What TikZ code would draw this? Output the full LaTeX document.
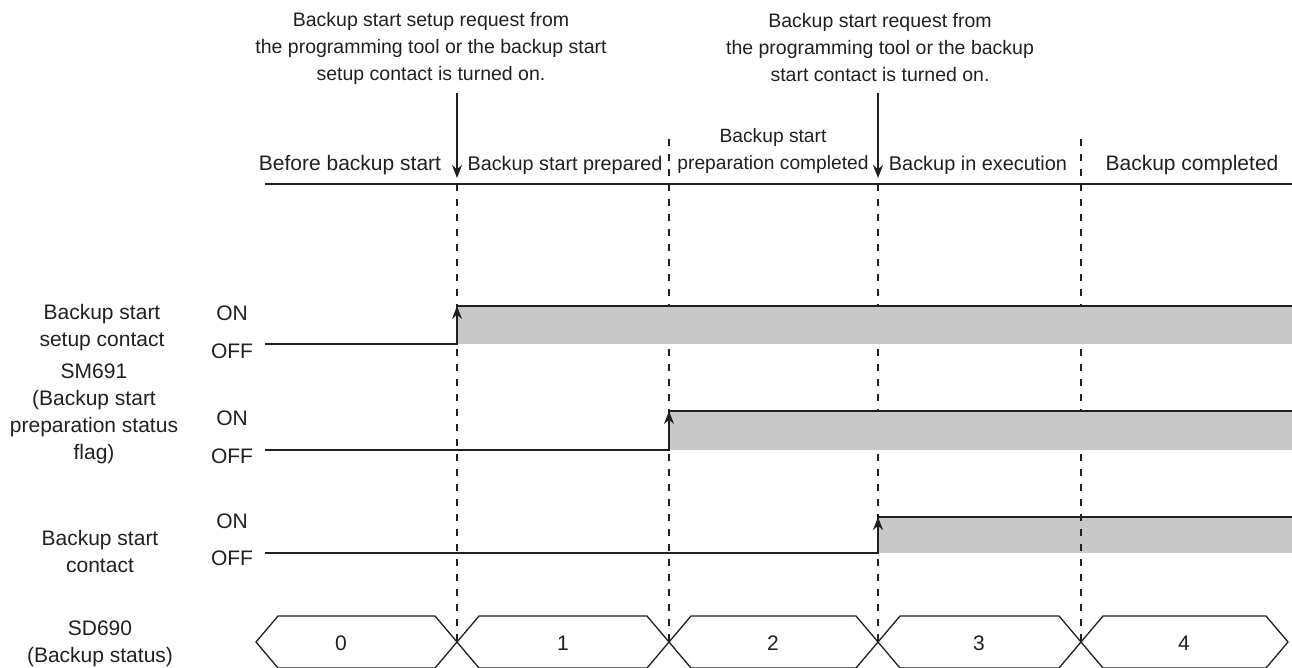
\documentclass[tikz,border=0pt]{standalone}
\usepackage{fontspec}
\setmainfont{Liberation Sans}
\usetikzlibrary{arrows.meta,positioning,calc}
\definecolor{Ink}{HTML}{231F20}
\definecolor{Shade}{HTML}{C8C8C8}
\tikzset{lab/.style={font=\fontsize{21}{27}\selectfont,text=Ink,align=center,inner sep=0pt},sig/.style={line width=2.6pt,draw=Ink},guide/.style={line width=1.1pt,draw=Ink,dash pattern=on 7pt off 8pt},trig/.style={-{Stealth[length=13pt,width=10pt]},line width=1.4pt,draw=Ink}}

\begin{document}
\begin{tikzpicture}[
  x=1pt,y=-1pt,
  bus/.style={line width=1.3pt,draw=Ink,line join=miter},
  sz/.style={font=\fontsize{#1}{27}\selectfont},
  req/.style={lab,sz=19.5},
  lvl/.style={lab,anchor=center}
]
\useasboundingbox (0,0) rectangle (1292,668);

% requests from above
\node[req] (setupreq) at (431,48)
  {Backup start setup request from\\the programming tool or the backup start\\setup contact is turned on.};
\node[req] (startreq) at (880,48)
  {Backup start request from\\the programming tool or the backup\\start contact is turned on.};
\coordinate (setupfrom) at (457,93);
\coordinate (setupto) at (457,178);
\coordinate (startfrom) at (878,93);
\coordinate (startto) at (878,178);
\draw[trig] (setupfrom)--(setupto);
\draw[trig] (startfrom)--(startto);

% phases
\node[lab] (before) at (350,165) {Before backup start};
\node[lab,sz=19.8] (prepared) at (565,165) {Backup start prepared};
\node[lab,sz=19.2] (prepdone) at (773,151) {Backup start\\preparation completed};
\node[lab,sz=19.9] (inexec) at (978,165) {Backup in execution};
\node[lab] (done) at (1192,165) {Backup completed};
\coordinate (axisL) at (265,184);
\coordinate (axisR) at (1292,184);
\draw[sig] (axisL)--(axisR);

% signal names
\node[lab] (setupname) at (102,328) {Backup start\\setup contact};
\node[lab] (flagname) at (94,414) {SM691\\(Backup start\\preparation status\\flag)};
\node[lab] (startname) at (100,551) {Backup start\\contact};
\node[lab] (statusname) at (100,644) {SD690\\(Backup status)};
\node[lvl] (on1) at (232,313) {ON};
\node[lvl] (off1) at (232,351) {OFF};
\node[lvl] (on2) at (232,418) {ON};
\node[lvl] (off2) at (232,456) {OFF};
\node[lvl] (on3) at (232,521) {ON};
\node[lvl] (off3) at (232,558) {OFF};

% shaded ON areas
\fill[Shade] (878,517) rectangle (1292,553);
\coordinate (d1top) at (457,184);
\coordinate (d1bot) at (457,642);
\coordinate (d2top) at (669,139);
\coordinate (d2bot) at (669,642);
\coordinate (d3top) at (878,184);
\coordinate (d3bot) at (878,642);
\coordinate (d4top) at (1081,139);
\coordinate (d4bot) at (1081,642);
\draw[guide] (d1top)--(d1bot);
\draw[guide] (d2top)--(d2bot);
\draw[guide] (d3top)--(d3bot);
\draw[guide] (d4top)--(d4bot);
\fill[Shade] (457,306) rectangle (1292,344);
\fill[Shade] (669,411) rectangle (1292,450);

% timing lines
\draw[sig] (265,344)--(457,344)--(457,306)--(1292,306);
\draw[sig] (265,450)--(669,450)--(669,411)--(1292,411);
\draw[sig] (265,553)--(878,553)--(878,517)--(1292,517);
\draw[trig] (457,344)--(457,306);
\draw[trig] (669,450)--(669,411);
\draw[trig] (878,553)--(878,517);

% SD690 values
\foreach \a/\b/\v/\c in {256/457/0/341,457/669/1/563,669/878/2/773,878/1081/3/979,1081/1288/4/1184}{
  \draw[bus] (\a,642)--(\a+22,616)--(\b-22,616)--(\b,642)--(\b-22,668)--(\a+22,668)--cycle;
  \node[lab] (val\v) at (\c,643) {\v};
}
\end{tikzpicture}
\end{document}
